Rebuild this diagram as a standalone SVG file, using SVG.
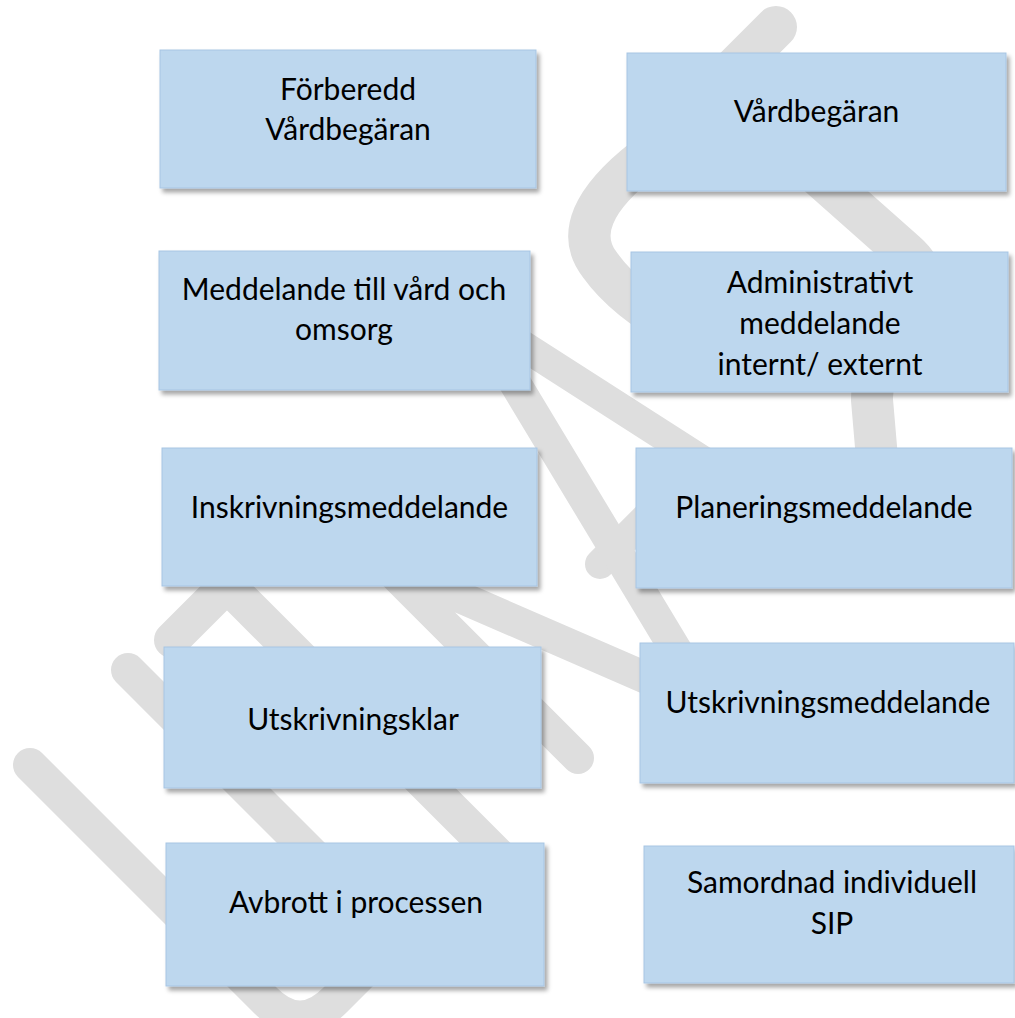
<svg xmlns="http://www.w3.org/2000/svg" width="1015" height="1018" viewBox="0 0 1015 1018">
  <defs>
    <filter id="shadow" x="-5%" y="-5%" width="115%" height="120%">
      <feDropShadow dx="3" dy="4" stdDeviation="2.2" flood-color="#000" flood-opacity="0.35"/>
    </filter>
    <style>
      .wm { fill: none; stroke: #dedede; stroke-linecap: round; stroke-linejoin: round; }
      .box { fill: #bdd7ee; stroke: #a7c5e4; stroke-width: 1; filter: url(#shadow); }
      .lbl { font-family: "Lato", "Liberation Sans", sans-serif; font-size: 30px; fill: #000; text-anchor: middle; }
    </style>
  </defs>
  <rect width="1015" height="1018" fill="#fff"/>
  <g id="watermark">
    <path class="wm" stroke-width="34" d="M 30 765 L 265 1000 Q 300 1035 335 1000 L 450 885"/>
    <path class="wm" stroke-width="34" d="M 128 670 L 330 872"/>
    <path class="wm" stroke-width="36" d="M 172 640 L 227 585 L 520 878" stroke-linejoin="miter"/>
    <path class="wm" stroke-width="32" d="M 578 758 L 384 564 L 720 710"/>
    <path class="wm" stroke-width="30" stroke-linecap="butt" d="M 600 564 L 690 474"/>
    <path class="wm" stroke-width="32" d="M 480 325 L 700 690"/>
    <path class="wm" stroke-width="30" d="M 500 331 L 720 472"/>
    <path class="wm" stroke-width="42" stroke-linecap="butt" d="M 776 27 L 645 158 Q 565 220 600 265 Q 625 300 680 330"/>
    <path class="wm" stroke-width="42" d="M 790 150 L 905 252 C 960 300 870 340 872 400 L 878 470"/>
  </g>
  <g id="n1"><rect class="box" x="160" y="50" width="376" height="138"/>
    <text class="lbl" x="348" y="100">Förberedd</text><text class="lbl" x="348" y="140">Vårdbegäran</text></g>
  <g id="n2"><rect class="box" x="627" y="53" width="379" height="138"/>
    <text class="lbl" x="816.5" y="122">Vårdbegäran</text></g>
  <g id="n3"><rect class="box" x="159" y="251" width="371" height="139"/>
    <text class="lbl" x="344" y="300">Meddelande till vård och</text><text class="lbl" x="344" y="340">omsorg</text></g>
  <g id="n4"><rect class="box" x="631" y="252" width="377" height="140"/>
    <text class="lbl" x="820" y="293">Administrativt</text><text class="lbl" x="820" y="334">meddelande</text><text class="lbl" x="820" y="375">internt/ externt</text></g>
  <g id="n5"><rect class="box" x="162" y="448" width="375" height="138"/>
    <text class="lbl" x="349.5" y="518">Inskrivningsmeddelande</text></g>
  <g id="n6"><rect class="box" x="636" y="448" width="376" height="140"/>
    <text class="lbl" x="824" y="518">Planeringsmeddelande</text></g>
  <g id="n7"><rect class="box" x="164" y="647" width="377" height="141"/>
    <text class="lbl" x="353" y="730">Utskrivningsklar</text></g>
  <g id="n8"><rect class="box" x="640" y="643" width="374" height="140"/>
    <text class="lbl" x="828" y="713">Utskrivningsmeddelande</text></g>
  <g id="n9"><rect class="box" x="166" y="843" width="378" height="143"/>
    <text class="lbl" x="356" y="913">Avbrott i processen</text></g>
  <g id="n10"><rect class="box" x="644" y="846" width="370" height="137"/>
    <text class="lbl" x="832" y="893">Samordnad individuell</text><text class="lbl" x="832" y="934">SIP</text></g>
</svg>
